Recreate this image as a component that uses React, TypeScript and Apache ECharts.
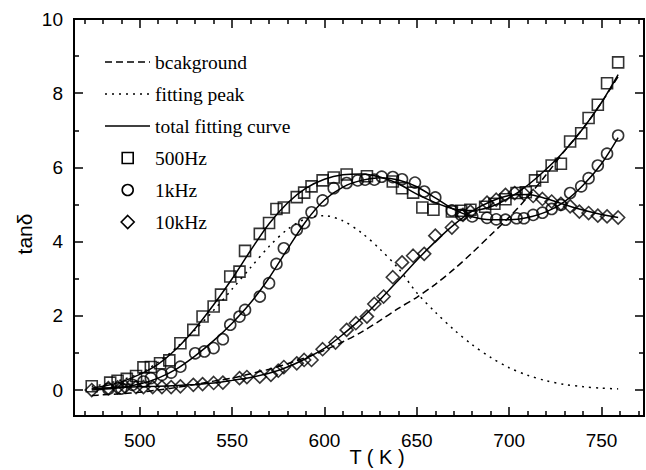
import React, { useEffect, useRef } from "react";
import * as echarts from "echarts";

// ---------- data ----------
const xMajorTicks = [500, 550, 600, 650, 700, 750];
const xMinorTicks = [470, 480, 490, 510, 520, 530, 540, 560, 570, 580, 590, 610, 620, 630, 640, 660, 670, 680, 690, 710, 720, 730, 740, 760, 770];
const yMajorTicks = [0, 2, 4, 6, 8, 10];
const yMinorTicks = [1, 3, 5, 7, 9];

const t500 = [474, 484, 488, 493, 498, 502, 506, 511, 516, 522, 529, 534, 540, 544, 549, 554, 557, 565, 570, 574, 578, 585, 589, 593, 599, 605, 612, 623, 637, 642, 648, 653, 659, 669, 674, 679, 687, 692, 698, 704, 709, 714, 718, 723, 728, 733, 739, 743, 748, 753, 759];
const v500 = [0.1, 0.2, 0.25, 0.3, 0.38, 0.61, 0.62, 0.72, 0.8, 1.26, 1.62, 1.98, 2.25, 2.57, 3.06, 3.19, 3.75, 4.21, 4.5, 4.88, 4.92, 5.2, 5.32, 5.49, 5.65, 5.73, 5.81, 5.76, 5.62, 5.44, 5.32, 4.92, 4.86, 4.81, 4.83, 4.86, 4.94, 5.02, 5.14, 5.31, 5.33, 5.65, 5.75, 6.05, 6.1, 6.7, 6.92, 7.33, 7.69, 8.27, 8.83];

const t1k = [483, 490, 496, 502, 506, 512, 517, 522, 530, 535, 540, 545, 549, 554, 557, 565, 570, 574, 578, 585, 589, 593, 599, 605, 612, 618, 622, 627, 631, 637, 642, 649, 654, 660, 669, 674, 680, 688, 693, 698, 704, 708, 713, 718, 723, 728, 733, 739, 743, 748, 753, 759];
const v1k = [0.03, 0.04, 0.14, 0.23, 0.32, 0.41, 0.47, 0.63, 0.99, 1.04, 1.13, 1.37, 1.76, 1.98, 2.16, 2.52, 2.88, 3.4, 3.82, 4.32, 4.5, 4.79, 5.11, 5.44, 5.58, 5.65, 5.67, 5.67, 5.75, 5.74, 5.68, 5.59, 5.35, 5.19, 4.84, 4.72, 4.68, 4.64, 4.6, 4.59, 4.63, 4.63, 4.72, 4.78, 4.88, 4.99, 5.31, 5.49, 5.71, 6.05, 6.37, 6.86];

const t10k = [474, 483, 488, 492, 498, 502, 507, 512, 517, 522, 529, 534, 540, 545, 554, 558, 565, 571, 575, 578, 585, 589, 593, 599, 606, 612, 617, 623, 627, 632, 637, 642, 648, 654, 660, 669, 675, 679, 688, 693, 698, 703, 708, 713, 718, 723, 728, 733, 738, 743, 748, 753, 759];
const v10k = [0.0, 0.05, 0.07, 0.09, 0.08, 0.08, 0.08, 0.08, 0.08, 0.1, 0.14, 0.16, 0.19, 0.2, 0.32, 0.35, 0.36, 0.41, 0.52, 0.62, 0.72, 0.81, 0.81, 1.1, 1.28, 1.62, 1.8, 1.98, 2.32, 2.52, 3.04, 3.44, 3.62, 3.67, 4.16, 4.38, 4.72, 4.81, 5.05, 5.13, 5.26, 5.31, 5.29, 5.23, 5.15, 5.08, 5.02, 4.95, 4.81, 4.77, 4.7, 4.68, 4.65];

const fitT = [474, 480, 490, 500, 510, 520, 530, 540, 550, 560, 570, 580, 590, 600, 610, 620, 630, 640, 650, 660, 670, 680, 690, 700, 710, 720, 730, 740, 750, 759];
const fit500 = [0.05, 0.1, 0.22, 0.42, 0.7, 1.12, 1.66, 2.3, 3.0, 3.76, 4.48, 5.04, 5.44, 5.68, 5.8, 5.82, 5.74, 5.56, 5.28, 5.05, 4.88, 4.84, 4.94, 5.18, 5.52, 5.95, 6.45, 7.05, 7.75, 8.5];
const fit1k = [0.0, 0.02, 0.07, 0.16, 0.32, 0.57, 0.92, 1.33, 1.8, 2.35, 3.02, 3.8, 4.55, 5.12, 5.47, 5.65, 5.72, 5.66, 5.48, 5.18, 4.87, 4.67, 4.59, 4.59, 4.65, 4.8, 5.08, 5.52, 6.1, 6.8];
const fit10k = [0.03, 0.05, 0.07, 0.09, 0.1, 0.12, 0.15, 0.19, 0.26, 0.34, 0.45, 0.62, 0.85, 1.12, 1.5, 1.93, 2.43, 2.96, 3.5, 4.0, 4.45, 4.82, 5.08, 5.24, 5.27, 5.16, 5.0, 4.85, 4.73, 4.65];
const background = [-0.15, -0.13, -0.1, -0.06, 0.0, 0.07, 0.15, 0.24, 0.32, 0.44, 0.56, 0.71, 0.88, 1.07, 1.3, 1.56, 1.87, 2.2, 2.5, 2.85, 3.25, 3.7, 4.18, 4.66, 5.2, 5.8, 6.45, 7.05, 7.75, 8.45];
const fittingPeak = [0.1, 0.15, 0.27, 0.45, 0.75, 1.15, 1.62, 2.15, 2.72, 3.3, 3.87, 4.33, 4.62, 4.7, 4.56, 4.24, 3.8, 3.28, 2.62, 2.1, 1.63, 1.22, 0.88, 0.6, 0.4, 0.25, 0.15, 0.09, 0.05, 0.03];

const legendLines = ["bcakground", "fitting peak", "total fitting curve"];
const legendMarkers = ["500Hz", "1kHz", "10kHz"];

const X_MIN = 464.4;
const X_MAX = 773;
const Y_MIN = -0.7;
const Y_MAX = 10;

const zip = (xs: number[], ys: number[]) => xs.map((x, i) => [x, ys[i]]);

export default function App() {
  const ref = useRef<HTMLDivElement>(null);

  useEffect(() => {
    if (!ref.current) return;
    const chart = echarts.init(ref.current, undefined, { renderer: "svg" });
    const black = "#000";
    const lineW = 1.5;
    const sansFont = "'Liberation Sans', Arial, sans-serif";
    const serifFont = "'Liberation Serif', 'Times New Roman', serif";

    const mkX = (position: string, ticks: number[], len: number, label: boolean) => ({
      type: "value",
      min: X_MIN,
      max: X_MAX,
      position,
      axisLine: { show: true, onZero: false, lineStyle: { color: black, width: 2 } },
      axisTick: { show: true, inside: true, length: len, customValues: ticks, lineStyle: { color: black, width: lineW } },
      axisLabel: label
        ? { show: true, customValues: ticks, color: black, fontSize: 19, fontFamily: sansFont, margin: 15 }
        : { show: false },
      splitLine: { show: false },
    });
    const mkY = (position: string, ticks: number[], len: number, label: boolean) => ({
      type: "value",
      min: Y_MIN,
      max: Y_MAX,
      position,
      axisLine: { show: true, onZero: false, lineStyle: { color: black, width: 2 } },
      axisTick: { show: true, inside: true, length: len, customValues: ticks, lineStyle: { color: black, width: lineW } },
      axisLabel: label
        ? { show: true, customValues: ticks, color: black, fontSize: 19, fontFamily: sansFont, margin: 11 }
        : { show: false },
      splitLine: { show: false },
    });

    const lineSeries = (name: string, data: number[], type: any) => ({
      name,
      type: "line",
      data: zip(fitT, data),
      showSymbol: false,
      symbol: "none",
      smooth: 0.3,
      lineStyle: { color: black, width: lineW, type },
      z: 2,
    });
    const scatter = (name: string, xs: number[], ys: number[], symbol: string, size: number) => ({
      name,
      type: "scatter",
      data: zip(xs, ys),
      symbol,
      symbolSize: size,
      itemStyle: { color: "rgba(255,255,255,0)", borderColor: black, borderWidth: 1.6 },
      z: 3,
    });

    // legend drawn as graphics
    const lx1 = 105, lx2 = 150, tx = 155, ly0 = 62, dy = 32;
    const dashes = [[7, 4], [2, 5], null];
    const graphics: any[] = [];
    legendLines.forEach((name, i) => {
      const y = ly0 + i * dy;
      graphics.push({
        type: "line",
        shape: { x1: lx1, y1: y, x2: lx2, y2: y },
        style: { stroke: black, lineWidth: lineW, lineDash: dashes[i] || undefined },
      });
      graphics.push({
        type: "text",
        x: tx,
        y,
        style: { text: name, fill: black, font: `19.5px ${serifFont}`, verticalAlign: "middle" },
      });
    });
    const mx = 127.7;
    legendMarkers.forEach((name, i) => {
      const y = ly0 + (i + 3) * dy;
      if (i === 0) {
        graphics.push({ type: "rect", shape: { x: mx - 5.5, y: y - 5.5, width: 11, height: 11 }, style: { fill: "none", stroke: black, lineWidth: 1.6 } });
      } else if (i === 1) {
        graphics.push({ type: "circle", shape: { cx: mx, cy: y, r: 5.5 }, style: { fill: "none", stroke: black, lineWidth: 1.6 } });
      } else {
        graphics.push({ type: "polygon", shape: { points: [[mx, y - 6.5], [mx + 6.5, y], [mx, y + 6.5], [mx - 6.5, y]] }, style: { fill: "none", stroke: black, lineWidth: 1.6 } });
      }
      graphics.push({
        type: "text",
        x: tx,
        y,
        style: { text: name, fill: black, font: `19.5px ${serifFont}`, verticalAlign: "middle" },
      });
    });
    // axis titles
    graphics.push({
      type: "text",
      x: 24,
      y: 234,
      rotation: Math.PI / 2,
      style: { text: "tanδ", fill: black, font: `21px ${sansFont}`, align: "center", verticalAlign: "middle" },
    });
    graphics.push({
      type: "text",
      x: 377,
      y: 457,
      style: { text: "T ( K )", fill: black, font: `20px ${sansFont}`, align: "center", verticalAlign: "middle" },
    });

    chart.setOption({
      animation: false,
      backgroundColor: "#fff",
      grid: { left: 74, right: 2, top: 19, bottom: 54, containLabel: false },
      xAxis: [
        mkX("bottom", xMajorTicks, 9, true),
        mkX("bottom", xMinorTicks, 5, false),
        mkX("top", xMajorTicks, 9, false),
        mkX("top", xMinorTicks, 5, false),
      ],
      yAxis: [
        mkY("left", yMajorTicks, 9, true),
        mkY("left", yMinorTicks, 5, false),
        mkY("right", yMajorTicks, 9, false),
        mkY("right", yMinorTicks, 5, false),
      ],
      series: [
        lineSeries("bcakground", background, [7, 4]),
        lineSeries("fitting peak", fittingPeak, [2, 5]),
        lineSeries("total fitting curve 500Hz", fit500, "solid"),
        lineSeries("total fitting curve 1kHz", fit1k, "solid"),
        lineSeries("total fitting curve 10kHz", fit10k, "solid"),
        scatter("500Hz", t500, v500, "rect", 11),
        scatter("1kHz", t1k, v1k, "circle", 11),
        scatter("10kHz", t10k, v10k, "diamond", 13),
      ],
      graphic: graphics,
    });
    return () => chart.dispose();
  }, []);

  return <div ref={ref} style={{ position: "fixed", left: 0, top: 0, width: 646, height: 470 }} />;
}
